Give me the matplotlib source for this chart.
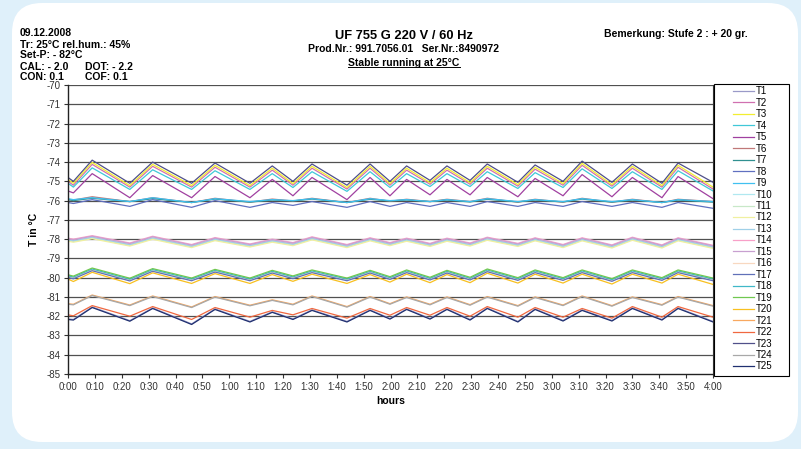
import matplotlib
matplotlib.use("Agg")
import matplotlib.pyplot as plt
from matplotlib.patches import FancyBboxPatch, Rectangle

plt.rcParams["font.family"] = ["Liberation Sans", "DejaVu Sans"]
plt.rcParams["axes.unicode_minus"] = False

# time points (minutes) where the curves turn
t_min = [0, 2, 9, 23, 31.5, 46, 54.7, 67.7, 76, 83.7, 90.8, 103.8, 112.4, 119.8, 126,
         134.7, 141, 149.6, 156, 167.4, 173.8, 184.2, 191.3, 202.4, 210, 221, 227, 240]

# group around -74/-75
t23 = [-74.8, -75.0, -73.9, -75.1, -74.0, -75.1, -74.05, -75.1, -74.2, -75.0, -74.1, -75.2, -74.1, -75.0,
       -74.2, -74.95, -74.2, -74.95, -74.1, -75.05, -74.15, -75.0, -73.95, -75.05, -74.1, -75.1, -74.05, -75.05]
t3 = [-74.9, -75.1, -74.02, -75.22, -74.12, -75.22, -74.17, -75.22, -74.32, -75.12, -74.22, -75.32, -74.22, -75.12,
      -74.32, -75.07, -74.32, -75.07, -74.22, -75.17, -74.27, -75.12, -74.07, -75.17, -74.22, -75.22, -74.17, -75.3]
t2 = [-75.0, -75.2, -74.12, -75.3, -74.22, -75.3, -74.27, -75.3, -74.42, -75.2, -74.32, -75.4, -74.32, -75.2,
      -74.42, -75.15, -74.42, -75.15, -74.32, -75.25, -74.37, -75.2, -74.17, -75.25, -74.32, -75.3, -74.27, -75.4]
t4 = [-75.1, -75.3, -74.3, -75.42, -74.4, -75.42, -74.45, -75.42, -74.6, -75.32, -74.5, -75.52, -74.5, -75.32,
      -74.6, -75.27, -74.6, -75.27, -74.5, -75.37, -74.55, -75.32, -74.35, -75.37, -74.5, -75.42, -74.45, -75.5]
t5 = [-75.5, -75.6, -74.6, -75.85, -74.7, -75.85, -74.75, -75.85, -74.9, -75.75, -74.8, -75.95, -74.8, -75.75,
      -74.9, -75.7, -74.9, -75.7, -74.8, -75.8, -74.85, -75.75, -74.65, -75.8, -74.8, -75.85, -74.75, -75.9]

# group around -76
t9 = [-75.9, -75.95, -75.85, -76.05, -75.85, -76.1, -75.9, -76.05, -75.95, -76.0, -75.9, -76.1, -75.9, -76.0,
      -75.95, -76.05, -75.95, -76.05, -75.9, -76.05, -75.95, -76.05, -75.9, -76.05, -75.95, -76.1, -75.95, -76.05]
t7 = [-75.95, -76.0, -75.88, -76.05, -75.9, -76.1, -75.92, -76.08, -75.97, -76.02, -75.92, -76.1, -75.93, -76.02,
      -75.97, -76.05, -75.97, -76.07, -75.93, -76.07, -75.97, -76.07, -75.92, -76.08, -75.97, -76.1, -75.97, -76.08]
t6 = [-75.95, -75.97, -75.8, -76.05, -75.85, -76.1, -75.88, -76.08, -75.92, -76.02, -75.88, -76.1, -75.88, -76.03,
      -75.93, -76.05, -75.93, -76.05, -75.88, -76.08, -75.93, -76.08, -75.88, -76.08, -75.93, -76.1, -75.93, -76.05]
t8 = [-76.1, -76.15, -75.95, -76.3, -75.95, -76.35, -76.0, -76.35, -76.1, -76.25, -76.05, -76.35, -76.05, -76.3,
      -76.1, -76.3, -76.1, -76.3, -76.05, -76.3, -76.1, -76.3, -76.05, -76.3, -76.1, -76.35, -76.1, -76.4]

# group around -78
t14 = [-77.95, -78.0, -77.82, -78.2, -77.85, -78.28, -77.92, -78.25, -78.0, -78.18, -77.88, -78.28, -77.93, -78.18,
       -77.95, -78.22, -77.95, -78.2, -77.9, -78.22, -77.93, -78.28, -77.93, -78.3, -77.9, -78.3, -77.93, -78.32]
t15 = [-77.98, -78.03, -77.85, -78.23, -77.88, -78.31, -77.95, -78.28, -78.03, -78.21, -77.91, -78.31, -77.96, -78.21,
       -77.98, -78.25, -77.98, -78.23, -77.93, -78.25, -77.96, -78.31, -77.96, -78.33, -77.93, -78.33, -77.96, -78.35]
t13 = [-78.03, -78.08, -77.9, -78.28, -77.93, -78.36, -78.0, -78.33, -78.08, -78.26, -77.96, -78.36, -78.01, -78.26,
       -78.03, -78.3, -78.03, -78.28, -77.98, -78.3, -78.01, -78.36, -78.01, -78.38, -77.98, -78.38, -78.01, -78.4]
t10 = [-78.05, -78.1, -77.92, -78.3, -77.95, -78.38, -78.02, -78.35, -78.1, -78.28, -77.98, -78.38, -78.03, -78.28,
       -78.05, -78.32, -78.05, -78.3, -78.0, -78.32, -78.03, -78.38, -78.03, -78.4, -78.0, -78.4, -78.03, -78.42]
t11 = [-78.07, -78.12, -77.94, -78.32, -77.97, -78.4, -78.04, -78.37, -78.12, -78.3, -78.0, -78.4, -78.05, -78.3,
       -78.07, -78.34, -78.07, -78.32, -78.02, -78.34, -78.05, -78.4, -78.05, -78.42, -78.02, -78.42, -78.05, -78.44]
t12 = [-78.11, -78.16, -77.98, -78.36, -78.01, -78.44, -78.08, -78.41, -78.16, -78.34, -78.04, -78.44, -78.09, -78.34,
       -78.11, -78.38, -78.11, -78.36, -78.06, -78.38, -78.09, -78.44, -78.09, -78.46, -78.06, -78.46, -78.09, -78.48]

# group around -80
t19 = [-79.85, -79.92, -79.5, -80.03, -79.53, -80.02, -79.57, -80.02, -79.62, -79.91, -79.6, -80.02, -79.62, -79.95,
       -79.6, -79.98, -79.62, -79.98, -79.55, -80.0, -79.6, -80.0, -79.6, -80.05, -79.6, -80.0, -79.6, -80.02]
t18 = [-79.9, -79.97, -79.55, -80.08, -79.58, -80.07, -79.62, -80.07, -79.67, -79.96, -79.65, -80.07, -79.67, -80.0,
       -79.65, -80.03, -79.67, -80.03, -79.6, -80.05, -79.65, -80.05, -79.65, -80.1, -79.65, -80.05, -79.65, -80.07]
t16 = [-79.95, -80.02, -79.6, -80.13, -79.63, -80.12, -79.67, -80.12, -79.72, -80.01, -79.7, -80.12, -79.72, -80.05,
       -79.7, -80.08, -79.72, -80.08, -79.65, -80.1, -79.7, -80.1, -79.7, -80.15, -79.7, -80.1, -79.7, -80.12]
t17 = [-79.99, -80.06, -79.64, -80.17, -79.67, -80.16, -79.71, -80.16, -79.76, -80.05, -79.74, -80.16, -79.76, -80.09,
       -79.74, -80.12, -79.76, -80.12, -79.69, -80.14, -79.74, -80.14, -79.74, -80.19, -79.74, -80.14, -79.74, -80.16]
t20 = [-80.07, -80.2, -79.72, -80.31, -79.75, -80.3, -79.79, -80.3, -79.84, -80.19, -79.82, -80.3, -79.84, -80.23,
       -79.82, -80.26, -79.84, -80.26, -79.77, -80.28, -79.82, -80.28, -79.82, -80.33, -79.82, -80.28, -79.82, -80.35]

# group around -81
t21 = [-81.35, -81.38, -80.9, -81.42, -80.95, -81.52, -80.98, -81.43, -81.15, -81.38, -80.95, -81.5, -80.98, -81.35,
       -81.0, -81.38, -81.0, -81.4, -80.98, -81.45, -81.0, -81.42, -80.95, -81.45, -81.0, -81.4, -80.98, -81.45]
t24 = [-81.38, -81.41, -80.93, -81.45, -80.98, -81.55, -81.01, -81.46, -81.18, -81.41, -80.98, -81.53, -81.01, -81.38,
       -81.03, -81.41, -81.03, -81.43, -81.01, -81.48, -81.03, -81.45, -80.98, -81.48, -81.03, -81.43, -81.01, -81.48]

# group around -82
t22 = [-81.93, -81.98, -81.45, -82.0, -81.5, -82.17, -81.55, -82.05, -81.7, -81.93, -81.6, -82.1, -81.6, -81.95,
       -81.55, -81.95, -81.55, -82.0, -81.5, -82.05, -81.55, -82.05, -81.6, -82.1, -81.5, -82.05, -81.5, -82.05]
t1 = [-82.14, -82.17, -81.52, -82.23, -81.57, -82.4, -81.62, -82.27, -81.77, -82.14, -81.67, -82.27, -81.67, -82.12,
      -81.62, -82.12, -81.62, -82.17, -81.57, -82.27, -81.62, -82.22, -81.67, -82.22, -81.57, -82.17, -81.57, -82.27]
t25 = [-82.17, -82.2, -81.55, -82.26, -81.6, -82.43, -81.65, -82.3, -81.8, -82.17, -81.7, -82.3, -81.7, -82.15,
       -81.65, -82.15, -81.65, -82.2, -81.6, -82.3, -81.65, -82.25, -81.7, -82.25, -81.6, -82.2, -81.6, -82.3]

names = ["T%d" % i for i in range(1, 26)]
series = [t1, t2, t3, t4, t5, t6, t7, t8, t9, t10, t11, t12, t13, t14, t15,
          t16, t17, t18, t19, t20, t21, t22, t23, t24, t25]
colors = ["#9a9ac8", "#d070b0", "#f2ee30", "#40c8d8", "#a040a0", "#c07878", "#309090", "#6070c0",
          "#40c0f0", "#b0e8f0", "#c8e8c8", "#f0f0a0", "#a0d0e8", "#f8a0c8", "#c8a0d0", "#f8d8c0",
          "#6070b8", "#40b8c8", "#70c850", "#f8c020", "#f8a860", "#f06840", "#50508a", "#a8a8a8", "#203070"]

xtick_min = list(range(0, 241, 10))
xtick_lab = ["%d:%02d" % (m // 60, m % 60) for m in xtick_min]
ytick = list(range(-85, -69))

W, H = 801, 449
fig = plt.figure(figsize=(W / 100, H / 100), dpi=100)
fig.patch.set_facecolor("#dff0fa")
bg = FancyBboxPatch((0.12, 0.07), 7.86, 4.39, boxstyle="round,pad=0,rounding_size=0.3",
                    transform=fig.dpi_scale_trans, facecolor="white", edgecolor="none", zorder=-5)
fig.patches.append(bg)

ax = fig.add_axes([68 / W, 1 - 374 / H, (713 - 68) / W, (374 - 85) / H])
ax.set_facecolor("white")
for y in ytick[1:]:
    ax.axhline(y, color="#505050", lw=0.9, zorder=1)

for name, vals, c in zip(names, series, colors):
    ax.plot(t_min, vals, color=c, lw=0.9, label=name, zorder=2)

ax.set_xlim(0, 240)
ax.set_ylim(-85, -70)
ax.set_xticks(xtick_min)
ax.set_xticklabels(xtick_lab)
ax.set_yticks(ytick)
ax.tick_params(axis="both", labelsize=7, colors="#333333", length=3, width=0.8, direction="out")
ax.tick_params(axis="x", pad=3)
ax.tick_params(axis="y", pad=2)
for s in ["left", "bottom"]:
    ax.spines[s].set_color("#222222")
    ax.spines[s].set_linewidth(1.0)
ax.spines["top"].set_visible(False)
ax.spines["right"].set_color("#333333")
ax.set_xlabel("hours", fontsize=7.5, fontweight="bold", labelpad=3)
ax.set_ylabel("T in °C", fontsize=7.5, fontweight="bold", labelpad=6)

leg = fig.legend(loc="upper left", bbox_to_anchor=(731 / W, 1 - 84 / H), fontsize=7,
                 frameon=False, handlelength=2.1, handletextpad=0.2, labelspacing=0.15,
                 borderpad=0.25, borderaxespad=0)
fig.add_artist(Rectangle((714 / W, (H - 376) / H), 75 / W, 292 / H, transform=fig.transFigure,
                         fill=False, edgecolor="black", lw=0.8))

def ftext(px, py, s, **kw):
    fig.text(px / W, 1 - py / H, s, fontsize=7.5, fontweight="bold", va="center", **kw)

ftext(20, 33, "09.12.2008")
ftext(20, 45, "Tr: 25°C rel.hum.: 45%")
ftext(20, 55, "Set-P: - 82°C")
ftext(20, 67, "CAL: - 2.0")
ftext(85, 67, "DOT: - 2.2")
ftext(20, 77, "CON: 0.1")
ftext(85, 77, "COF: 0.1")
fig.text(404 / W, 1 - 36 / H, "UF 755 G 220 V / 60 Hz", fontsize=9.3, fontweight="bold",
         ha="center", va="center")
ftext(404, 49, "Prod.Nr.: 991.7056.01   Ser.Nr.:8490972", ha="center")
t = fig.text(404 / W, 1 - 63 / H, "Stable running at 25°C", fontsize=7.5, fontweight="bold",
             ha="center", va="center")
fig.canvas.draw()
bb = t.get_window_extent()
fig.add_artist(plt.Line2D([bb.x0 / W, bb.x1 / W], [(bb.y0 + 1) / H, (bb.y0 + 1) / H],
                          color="black", lw=0.7, transform=fig.transFigure))
ftext(676, 34, "Bemerkung: Stufe 2 : + 20 gr.", ha="center")

fig.savefig("out.png", dpi=100, facecolor=fig.get_facecolor())
